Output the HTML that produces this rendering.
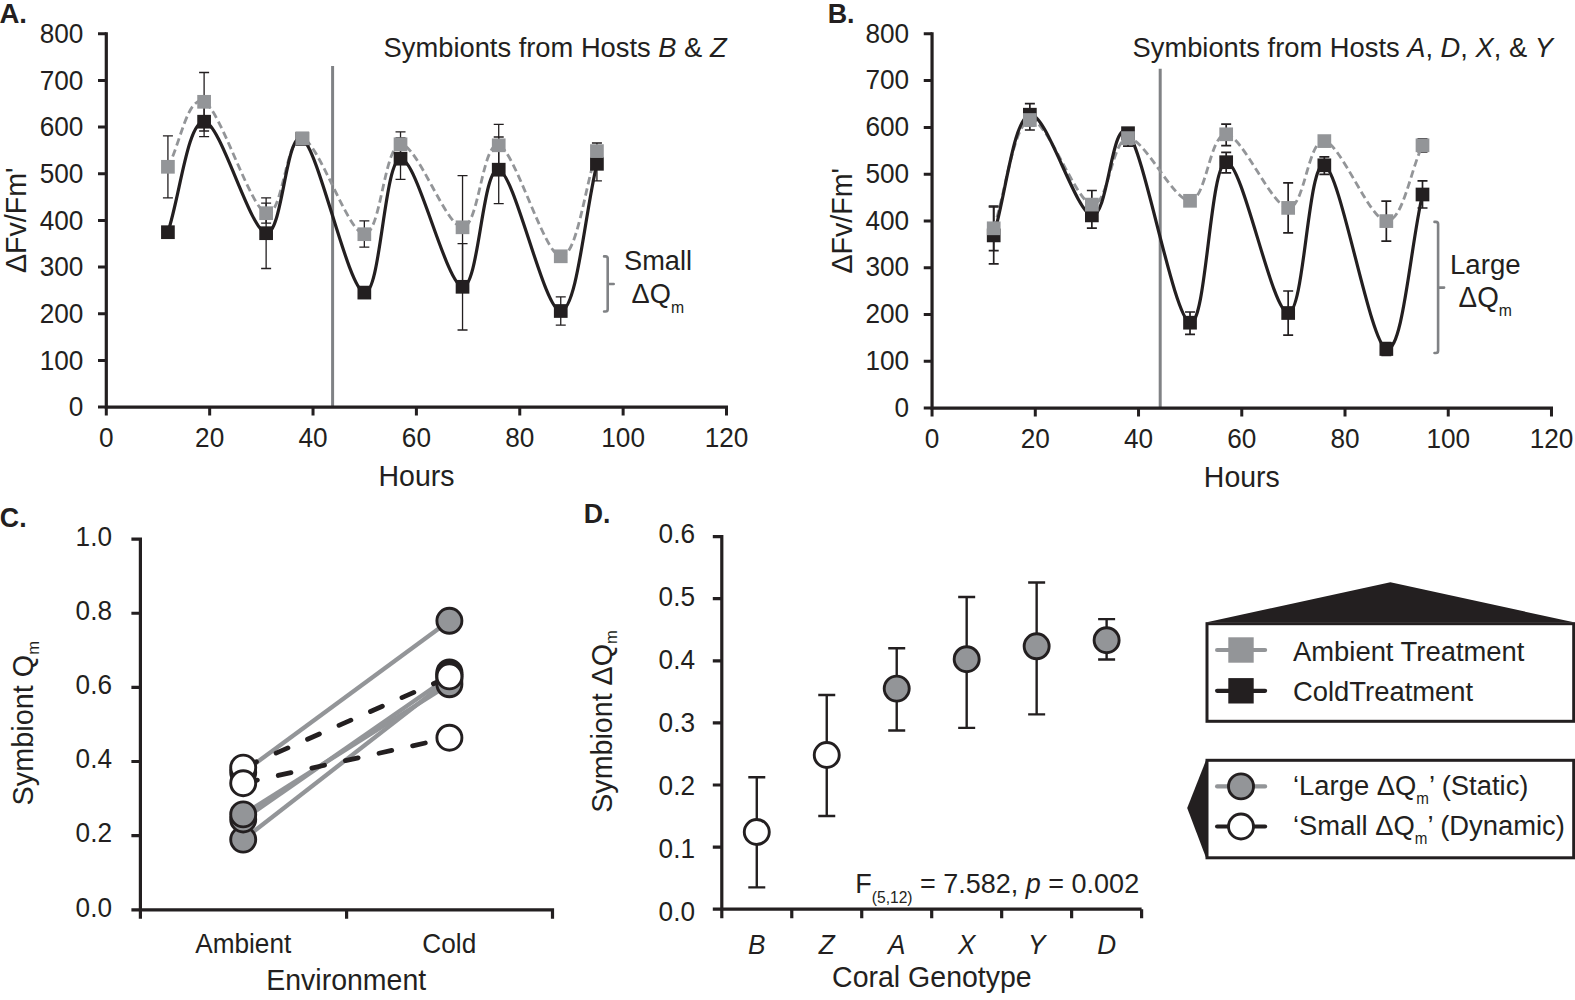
<!DOCTYPE html>
<html lang="en">
<head>
<meta charset="utf-8">
<title>Figure</title>
<style>
html,body{margin:0;padding:0;background:#fff;}
body{width:1575px;height:1000px;overflow:hidden;}
svg{display:block;}
svg text{font-family:"Liberation Sans", Arial, Helvetica, sans-serif;fill:#231f20;}
</style>
</head>
<body>
<svg width="1575" height="1000" viewBox="0 0 1575 1000">
<rect width="1575" height="1000" fill="#ffffff"/>
<g id="panelA">
<path d="M332.6,65.9 V407.1" stroke="#808285" stroke-width="3" fill="none"/>
<path d="M167.92,135.8 V197.8 M162.92,135.8 H172.92 M162.92,197.8 H172.92" fill="none" stroke="#231f20" stroke-width="1.3"/>
<path d="M204.11,72.5 V131 M199.11,72.5 H209.11 M199.11,131 H209.11" fill="none" stroke="#231f20" stroke-width="1.3"/>
<path d="M266.13,203.2 V223.2 M261.13,203.2 H271.13 M261.13,223.2 H271.13" fill="none" stroke="#231f20" stroke-width="1.3"/>
<path d="M364.34,220.9 V247.1 M359.34,220.9 H369.34 M359.34,247.1 H369.34" fill="none" stroke="#231f20" stroke-width="1.3"/>
<path d="M400.52,131.8 V156.8 M395.52,131.8 H405.52 M395.52,156.8 H405.52" fill="none" stroke="#231f20" stroke-width="1.3"/>
<path d="M462.54,175.7 V283 M457.54,175.7 H467.54 M457.54,283 H467.54" fill="none" stroke="#231f20" stroke-width="1.3"/>
<path d="M498.72,124.4 V166 M493.72,124.4 H503.72 M493.72,166 H503.72" fill="none" stroke="#231f20" stroke-width="1.3"/>
<path d="M596.93,143 V159 M591.93,143 H601.93 M591.93,159 H601.93" fill="none" stroke="#231f20" stroke-width="1.3"/>
<path d="M204.11,106.7 V136.7 M199.11,106.7 H209.11 M199.11,136.7 H209.11" fill="none" stroke="#231f20" stroke-width="1.3"/>
<path d="M266.13,197.9 V268.5 M261.13,197.9 H271.13 M261.13,268.5 H271.13" fill="none" stroke="#231f20" stroke-width="1.3"/>
<path d="M400.52,138 V179.3 M395.52,138 H405.52 M395.52,179.3 H405.52" fill="none" stroke="#231f20" stroke-width="1.3"/>
<path d="M462.54,243.6 V330 M457.54,243.6 H467.54 M457.54,330 H467.54" fill="none" stroke="#231f20" stroke-width="1.3"/>
<path d="M498.72,137 V203.7 M493.72,137 H503.72 M493.72,203.7 H503.72" fill="none" stroke="#231f20" stroke-width="1.3"/>
<path d="M560.75,296.8 V325.2 M555.75,296.8 H565.75 M555.75,325.2 H565.75" fill="none" stroke="#231f20" stroke-width="1.3"/>
<path d="M596.93,146.8 V180.8 M591.93,146.8 H601.93 M591.93,180.8 H601.93" fill="none" stroke="#231f20" stroke-width="1.3"/>
<path d="M167.92,166.8 C179.98,145.13 187.74,94.07 204.11,101.8 C220.47,109.53 249.76,207.12 266.13,213.2 C282.5,219.28 285.94,134.8 302.31,138.3 C318.68,141.8 347.97,233.2 364.34,234.2 C380.7,235.2 384.15,145.45 400.52,144.3 C416.88,143.15 446.17,227.13 462.54,227.3 C478.91,227.47 482.35,140.47 498.72,145.3 C515.09,150.13 544.38,255.33 560.75,256.3 C577.11,257.27 584.87,186.17 596.93,151.1" fill="none" stroke="#939598" stroke-width="2.8" stroke-dasharray="7.5 4"/>
<path d="M167.92,232.2 C179.98,195.37 187.74,121.53 204.11,121.7 C220.47,121.87 249.76,230.33 266.13,233.2 C282.5,236.07 285.94,129 302.31,138.9 C318.68,148.8 347.97,289.3 364.34,292.6 C380.7,295.9 384.15,159.67 400.52,158.7 C416.88,157.73 446.17,284.97 462.54,286.8 C478.91,288.63 482.35,165.67 498.72,169.7 C515.09,173.73 544.38,311.98 560.75,311 C577.11,310.02 584.87,212.87 596.93,163.8" fill="none" stroke="#231f20" stroke-width="3.2"/>
<rect x="161.07" y="225.35" width="13.7" height="13.7" fill="#231f20"/>
<rect x="197.26" y="114.85" width="13.7" height="13.7" fill="#231f20"/>
<rect x="259.28" y="226.35" width="13.7" height="13.7" fill="#231f20"/>
<rect x="295.46" y="132.05" width="13.7" height="13.7" fill="#231f20"/>
<rect x="357.49" y="285.75" width="13.7" height="13.7" fill="#231f20"/>
<rect x="393.67" y="151.85" width="13.7" height="13.7" fill="#231f20"/>
<rect x="455.69" y="279.95" width="13.7" height="13.7" fill="#231f20"/>
<rect x="491.87" y="162.85" width="13.7" height="13.7" fill="#231f20"/>
<rect x="553.9" y="304.15" width="13.7" height="13.7" fill="#231f20"/>
<rect x="590.08" y="156.95" width="13.7" height="13.7" fill="#231f20"/>
<rect x="161.07" y="159.95" width="13.7" height="13.7" fill="#939598"/>
<rect x="197.26" y="94.95" width="13.7" height="13.7" fill="#939598"/>
<rect x="259.28" y="206.35" width="13.7" height="13.7" fill="#939598"/>
<rect x="295.46" y="131.45" width="13.7" height="13.7" fill="#939598"/>
<rect x="357.49" y="227.35" width="13.7" height="13.7" fill="#939598"/>
<rect x="393.67" y="137.45" width="13.7" height="13.7" fill="#939598"/>
<rect x="455.69" y="220.45" width="13.7" height="13.7" fill="#939598"/>
<rect x="491.87" y="138.45" width="13.7" height="13.7" fill="#939598"/>
<rect x="553.9" y="249.45" width="13.7" height="13.7" fill="#939598"/>
<rect x="590.08" y="144.25" width="13.7" height="13.7" fill="#939598"/>
<path d="M106.3,32.2 V407.1 H728" fill="none" stroke="#231f20" stroke-width="3.2"/>
<path d="M98,407.1 H106.3 M98,360.43 H106.3 M98,313.75 H106.3 M98,267.08 H106.3 M98,220.4 H106.3 M98,173.72 H106.3 M98,127.05 H106.3 M98,80.38 H106.3 M98,33.7 H106.3 M106.3,407.1 V415.5 M209.67,407.1 V415.5 M313.03,407.1 V415.5 M416.4,407.1 V415.5 M519.76,407.1 V415.5 M623.13,407.1 V415.5 M726.5,407.1 V415.5" fill="none" stroke="#231f20" stroke-width="3.0"/>
<text transform="translate(83.4,416.25) scale(1,1.035)" font-size="26.2" text-anchor="end">0</text>
<text transform="translate(83.4,369.57) scale(1,1.035)" font-size="26.2" text-anchor="end">100</text>
<text transform="translate(83.4,322.9) scale(1,1.035)" font-size="26.2" text-anchor="end">200</text>
<text transform="translate(83.4,276.23) scale(1,1.035)" font-size="26.2" text-anchor="end">300</text>
<text transform="translate(83.4,229.55) scale(1,1.035)" font-size="26.2" text-anchor="end">400</text>
<text transform="translate(83.4,182.88) scale(1,1.035)" font-size="26.2" text-anchor="end">500</text>
<text transform="translate(83.4,136.2) scale(1,1.035)" font-size="26.2" text-anchor="end">600</text>
<text transform="translate(83.4,89.53) scale(1,1.035)" font-size="26.2" text-anchor="end">700</text>
<text transform="translate(83.4,42.85) scale(1,1.035)" font-size="26.2" text-anchor="end">800</text>
<text transform="translate(106.3,446.8) scale(1,1.035)" font-size="26.2" text-anchor="middle">0</text>
<text transform="translate(209.67,446.8) scale(1,1.035)" font-size="26.2" text-anchor="middle">20</text>
<text transform="translate(313.03,446.8) scale(1,1.035)" font-size="26.2" text-anchor="middle">40</text>
<text transform="translate(416.4,446.8) scale(1,1.035)" font-size="26.2" text-anchor="middle">60</text>
<text transform="translate(519.76,446.8) scale(1,1.035)" font-size="26.2" text-anchor="middle">80</text>
<text transform="translate(623.13,446.8) scale(1,1.035)" font-size="26.2" text-anchor="middle">100</text>
<text transform="translate(726.5,446.8) scale(1,1.035)" font-size="26.2" text-anchor="middle">120</text>
<text x="-0.6" y="22.9" font-size="27.6" font-weight="bold" class="nv">A.</text>
<text transform="translate(383.6,57.1) scale(1,1.035)" font-size="26.6" textLength="343" lengthAdjust="spacingAndGlyphs">Symbionts from Hosts <tspan font-style="italic">B</tspan> &amp; <tspan font-style="italic">Z</tspan></text>
<text transform="translate(416.5,486.4) scale(1,1.035)" font-size="28.5" text-anchor="middle">Hours</text>
<text transform="translate(26.2,220.3) rotate(-90)" font-size="29.4" text-anchor="middle" textLength="105.3" lengthAdjust="spacingAndGlyphs">ΔFv/Fm'</text>
<path d="M604.1,256.4 H605.5 Q607.7,256.4 607.7,258.6 V309.3 Q607.7,311.5 605.5,311.5 H604.1 M607.7,284 H613.7" fill="none" stroke="#808285" stroke-width="2.6" stroke-linecap="round" stroke-linejoin="round"/>
<text transform="translate(624,270.3) scale(1,1.035)" font-size="27.2">Small</text>
<text transform="translate(631.6,303.2) scale(1,1.035)" font-size="27.2">ΔQ<tspan font-size="15.8" dy="9">m</tspan></text>
</g>
<g id="panelB">
<path d="M1160.2,68.8 V408.1" stroke="#808285" stroke-width="3" fill="none"/>
<path d="M1128.02,130.1 V146.1 M1123.02,130.1 H1133.02 M1123.02,146.1 H1133.02" fill="none" stroke="#231f20" stroke-width="1.7"/>
<path d="M993.7,206 V250.6 M988.7,206 H998.7 M988.7,250.6 H998.7" fill="none" stroke="#231f20" stroke-width="1.7"/>
<path d="M1029.86,110 V130 M1024.86,110 H1034.86 M1024.86,130 H1034.86" fill="none" stroke="#231f20" stroke-width="1.7"/>
<path d="M1091.86,190.5 V218.7 M1086.86,190.5 H1096.86 M1086.86,218.7 H1096.86" fill="none" stroke="#231f20" stroke-width="1.7"/>
<path d="M1226.18,124.2 V145.7 M1221.18,124.2 H1231.18 M1221.18,145.7 H1231.18" fill="none" stroke="#231f20" stroke-width="1.7"/>
<path d="M1288.17,182.9 V232.8 M1283.17,182.9 H1293.17 M1283.17,232.8 H1293.17" fill="none" stroke="#231f20" stroke-width="1.7"/>
<path d="M1386.33,201.1 V241.1 M1381.33,201.1 H1391.33 M1381.33,241.1 H1391.33" fill="none" stroke="#231f20" stroke-width="1.7"/>
<path d="M1422.5,138.8 V151.8 M1417.5,138.8 H1427.5 M1417.5,151.8 H1427.5" fill="none" stroke="#231f20" stroke-width="1.7"/>
<path d="M993.7,207 V263.8 M988.7,207 H998.7 M988.7,263.8 H998.7" fill="none" stroke="#231f20" stroke-width="1.7"/>
<path d="M1029.86,103.7 V125.7 M1024.86,103.7 H1034.86 M1024.86,125.7 H1034.86" fill="none" stroke="#231f20" stroke-width="1.7"/>
<path d="M1091.86,202.6 V228.2 M1086.86,202.6 H1096.86 M1086.86,228.2 H1096.86" fill="none" stroke="#231f20" stroke-width="1.7"/>
<path d="M1190.02,312 V334.3 M1185.02,312 H1195.02 M1185.02,334.3 H1195.02" fill="none" stroke="#231f20" stroke-width="1.7"/>
<path d="M1226.18,152.4 V172.8 M1221.18,152.4 H1231.18 M1221.18,172.8 H1231.18" fill="none" stroke="#231f20" stroke-width="1.7"/>
<path d="M1288.17,291 V335.2 M1283.17,291 H1293.17 M1283.17,335.2 H1293.17" fill="none" stroke="#231f20" stroke-width="1.7"/>
<path d="M1324.34,156.8 V174.3 M1319.34,156.8 H1329.34 M1319.34,174.3 H1329.34" fill="none" stroke="#231f20" stroke-width="1.7"/>
<path d="M1386.33,342.5 V355.5 M1381.33,342.5 H1391.33 M1381.33,355.5 H1391.33" fill="none" stroke="#231f20" stroke-width="1.7"/>
<path d="M1422.5,180.8 V208 M1417.5,180.8 H1427.5 M1417.5,208 H1427.5" fill="none" stroke="#231f20" stroke-width="1.7"/>
<path d="M993.7,228.3 C1005.75,192.2 1013.5,123.95 1029.86,120 C1046.22,116.05 1075.5,201.58 1091.86,204.6 C1108.22,207.62 1111.66,138.73 1128.02,138.1 C1144.38,137.47 1173.66,201.43 1190.02,200.8 C1206.37,200.17 1209.82,133.12 1226.18,134.3 C1242.54,135.48 1271.81,206.77 1288.17,207.9 C1304.53,209.03 1307.98,138.9 1324.34,141.1 C1340.7,143.3 1369.97,220.4 1386.33,221.1 C1402.69,221.8 1410.44,170.57 1422.5,145.3" fill="none" stroke="#939598" stroke-width="2.8" stroke-dasharray="7.5 4"/>
<path d="M993.7,235.4 C1005.75,195.17 1013.5,118.03 1029.86,114.7 C1046.22,111.37 1075.5,212.32 1091.86,215.4 C1108.22,218.48 1111.66,115.32 1128.02,133.2 C1144.38,151.08 1173.66,317.87 1190.02,322.7 C1206.37,327.53 1209.82,163.82 1226.18,162.2 C1242.54,160.58 1271.81,312.48 1288.17,313 C1304.53,313.52 1307.98,159.3 1324.34,165.3 C1340.7,171.3 1369.97,344.13 1386.33,349 C1402.69,353.87 1410.44,246 1422.5,194.5" fill="none" stroke="#231f20" stroke-width="3.2"/>
<rect x="986.85" y="228.55" width="13.7" height="13.7" fill="#231f20"/>
<rect x="1023.01" y="107.85" width="13.7" height="13.7" fill="#231f20"/>
<rect x="1085.01" y="208.55" width="13.7" height="13.7" fill="#231f20"/>
<rect x="1121.17" y="126.35" width="13.7" height="13.7" fill="#231f20"/>
<rect x="1183.17" y="315.85" width="13.7" height="13.7" fill="#231f20"/>
<rect x="1219.33" y="155.35" width="13.7" height="13.7" fill="#231f20"/>
<rect x="1281.32" y="306.15" width="13.7" height="13.7" fill="#231f20"/>
<rect x="1317.49" y="158.45" width="13.7" height="13.7" fill="#231f20"/>
<rect x="1379.48" y="342.15" width="13.7" height="13.7" fill="#231f20"/>
<rect x="1415.65" y="187.65" width="13.7" height="13.7" fill="#231f20"/>
<rect x="986.85" y="221.45" width="13.7" height="13.7" fill="#939598"/>
<rect x="1023.01" y="113.15" width="13.7" height="13.7" fill="#939598"/>
<rect x="1085.01" y="197.75" width="13.7" height="13.7" fill="#939598"/>
<rect x="1121.17" y="131.25" width="13.7" height="13.7" fill="#939598"/>
<rect x="1183.17" y="193.95" width="13.7" height="13.7" fill="#939598"/>
<rect x="1219.33" y="127.45" width="13.7" height="13.7" fill="#939598"/>
<rect x="1281.32" y="201.05" width="13.7" height="13.7" fill="#939598"/>
<rect x="1317.49" y="134.25" width="13.7" height="13.7" fill="#939598"/>
<rect x="1379.48" y="214.25" width="13.7" height="13.7" fill="#939598"/>
<rect x="1415.65" y="138.45" width="13.7" height="13.7" fill="#939598"/>
<path d="M932.05,32.3 V408.1 H1553" fill="none" stroke="#231f20" stroke-width="3.2"/>
<path d="M923.75,408.1 H932.05 M923.75,361.31 H932.05 M923.75,314.53 H932.05 M923.75,267.74 H932.05 M923.75,220.95 H932.05 M923.75,174.16 H932.05 M923.75,127.38 H932.05 M923.75,80.59 H932.05 M923.75,33.8 H932.05 M932.05,408.1 V416.5 M1035.29,408.1 V416.5 M1138.53,408.1 V416.5 M1241.77,408.1 V416.5 M1345.01,408.1 V416.5 M1448.25,408.1 V416.5 M1551.49,408.1 V416.5" fill="none" stroke="#231f20" stroke-width="3.0"/>
<text transform="translate(909.15,416.8) scale(1,1.035)" font-size="26.2" text-anchor="end">0</text>
<text transform="translate(909.15,370.01) scale(1,1.035)" font-size="26.2" text-anchor="end">100</text>
<text transform="translate(909.15,323.23) scale(1,1.035)" font-size="26.2" text-anchor="end">200</text>
<text transform="translate(909.15,276.44) scale(1,1.035)" font-size="26.2" text-anchor="end">300</text>
<text transform="translate(909.15,229.65) scale(1,1.035)" font-size="26.2" text-anchor="end">400</text>
<text transform="translate(909.15,182.86) scale(1,1.035)" font-size="26.2" text-anchor="end">500</text>
<text transform="translate(909.15,136.07) scale(1,1.035)" font-size="26.2" text-anchor="end">600</text>
<text transform="translate(909.15,89.29) scale(1,1.035)" font-size="26.2" text-anchor="end">700</text>
<text transform="translate(909.15,42.5) scale(1,1.035)" font-size="26.2" text-anchor="end">800</text>
<text transform="translate(932.05,447.8) scale(1,1.035)" font-size="26.2" text-anchor="middle">0</text>
<text transform="translate(1035.29,447.8) scale(1,1.035)" font-size="26.2" text-anchor="middle">20</text>
<text transform="translate(1138.53,447.8) scale(1,1.035)" font-size="26.2" text-anchor="middle">40</text>
<text transform="translate(1241.77,447.8) scale(1,1.035)" font-size="26.2" text-anchor="middle">60</text>
<text transform="translate(1345.01,447.8) scale(1,1.035)" font-size="26.2" text-anchor="middle">80</text>
<text transform="translate(1448.25,447.8) scale(1,1.035)" font-size="26.2" text-anchor="middle">100</text>
<text transform="translate(1551.49,447.8) scale(1,1.035)" font-size="26.2" text-anchor="middle">120</text>
<text x="827.7" y="22.8" font-size="26.9" font-weight="bold" class="nv">B.</text>
<text transform="translate(1132.5,57.1) scale(1,1.035)" font-size="26.6" textLength="420.5" lengthAdjust="spacingAndGlyphs">Symbionts from Hosts <tspan font-style="italic">A</tspan>, <tspan font-style="italic">D</tspan>, <tspan font-style="italic">X</tspan>, &amp; <tspan font-style="italic">Y</tspan></text>
<text transform="translate(1241.8,486.8) scale(1,1.035)" font-size="28.5" text-anchor="middle">Hours</text>
<text transform="translate(852,220.8) rotate(-90)" font-size="29.4" text-anchor="middle" textLength="105.3" lengthAdjust="spacingAndGlyphs">ΔFv/Fm'</text>
<path d="M1434.5,221.9 H1435.9 Q1438.1,221.9 1438.1,224.1 V350.8 Q1438.1,353 1435.9,353 H1434.5 M1438.1,287.6 H1444.1" fill="none" stroke="#808285" stroke-width="2.6" stroke-linecap="round" stroke-linejoin="round"/>
<text transform="translate(1450,274.2) scale(1,1.035)" font-size="27.6">Large</text>
<text transform="translate(1458.6,306.5) scale(1,1.035)" font-size="27.8">ΔQ<tspan font-size="15.8" dy="9">m</tspan></text>
</g>
<g id="panelC">
<path d="M243.2,772.4 L449.4,620.8" fill="none" stroke="#939598" stroke-width="4.3"/>
<path d="M243.2,814.4 L449.4,684.3" fill="none" stroke="#939598" stroke-width="4.3"/>
<path d="M243.2,819.5 L449.4,676.5" fill="none" stroke="#939598" stroke-width="4.3"/>
<path d="M243.2,839.6 L449.4,679.5" fill="none" stroke="#939598" stroke-width="4.3"/>
<path d="M243.2,767.6 L449.4,676.7" fill="none" stroke="#231f20" stroke-width="4.8" stroke-dasharray="13 21.4" stroke-dashoffset="-1.5" stroke-linecap="round"/>
<path d="M243.2,783.2 L449.4,737.7" fill="none" stroke="#231f20" stroke-width="4.8" stroke-dasharray="13 21.4" stroke-dashoffset="-1.5" stroke-linecap="round"/>
<circle cx="243.2" cy="839.6" r="12.5" fill="#939598" stroke="#231f20" stroke-width="2.9"/>
<circle cx="449.4" cy="679.5" r="12.5" fill="#939598" stroke="#231f20" stroke-width="2.9"/>
<circle cx="243.2" cy="819.5" r="12.5" fill="#939598" stroke="#231f20" stroke-width="2.9"/>
<circle cx="449.4" cy="676.5" r="12.5" fill="#939598" stroke="#231f20" stroke-width="2.9"/>
<circle cx="243.2" cy="814.4" r="12.5" fill="#939598" stroke="#231f20" stroke-width="2.9"/>
<circle cx="449.4" cy="684.3" r="12.5" fill="#939598" stroke="#231f20" stroke-width="2.9"/>
<circle cx="243.2" cy="772.4" r="12.5" fill="#939598" stroke="#231f20" stroke-width="2.9"/>
<circle cx="449.4" cy="620.8" r="12.5" fill="#939598" stroke="#231f20" stroke-width="2.9"/>
<circle cx="243.2" cy="767.6" r="12.5" fill="#fff" stroke="#231f20" stroke-width="2.9"/>
<circle cx="243.2" cy="783.2" r="12.5" fill="#fff" stroke="#231f20" stroke-width="2.9"/>
<circle cx="449.4" cy="672.4" r="12.5" fill="#fff" stroke="#231f20" stroke-width="2.9"/>
<circle cx="449.4" cy="674.4" r="12.5" fill="#fff" stroke="#231f20" stroke-width="2.9"/>
<circle cx="449.4" cy="676.4" r="12.5" fill="#fff" stroke="#231f20" stroke-width="2.9"/>
<circle cx="449.4" cy="737.7" r="12.5" fill="#fff" stroke="#231f20" stroke-width="2.9"/>
<path d="M140.4,537.5 V909.8 H552.5 V918.8 M131.4,909.8 H140.4 M131.4,835.66 H140.4 M131.4,761.52 H140.4 M131.4,687.38 H140.4 M131.4,613.24 H140.4 M131.4,539.1 H140.4 M140.4,909.8 V918.8 M346.6,909.8 V918.8" fill="none" stroke="#231f20" stroke-width="3.2"/>
<text transform="translate(112,916.5) scale(1,1.035)" font-size="26.2" text-anchor="end">0.0</text>
<text transform="translate(112,842.44) scale(1,1.035)" font-size="26.2" text-anchor="end">0.2</text>
<text transform="translate(112,768.38) scale(1,1.035)" font-size="26.2" text-anchor="end">0.4</text>
<text transform="translate(112,694.32) scale(1,1.035)" font-size="26.2" text-anchor="end">0.6</text>
<text transform="translate(112,620.26) scale(1,1.035)" font-size="26.2" text-anchor="end">0.8</text>
<text transform="translate(112,546.2) scale(1,1.035)" font-size="26.2" text-anchor="end">1.0</text>
<text transform="translate(-0.2,527.3) scale(1,1.035)" font-size="26.8" font-weight="bold">C.</text>
<text transform="translate(243.2,953.3) scale(1,1.035)" font-size="26.2" text-anchor="middle">Ambient</text>
<text transform="translate(449.3,953.3) scale(1,1.035)" font-size="26.2" text-anchor="middle">Cold</text>
<text transform="translate(346.2,990.1) scale(1,1.035)" font-size="28.5" text-anchor="middle">Environment</text>
<text transform="translate(33,723.2) rotate(-90)" font-size="29.4" text-anchor="middle" textLength="164.5" lengthAdjust="spacingAndGlyphs">Symbiont Q<tspan font-size="17" dy="5.5">m</tspan></text>
</g>
<g id="panelD">
<path d="M756.78,777.2 V887.4 M748.28,777.2 H765.28 M748.28,887.4 H765.28" fill="none" stroke="#231f20" stroke-width="2.4"/>
<circle cx="756.78" cy="832" r="12.5" fill="#fff" stroke="#231f20" stroke-width="2.9"/>
<text transform="translate(756.78,953.9) scale(1,1.035)" font-size="26.2" text-anchor="middle" font-style="italic">B</text>
<path d="M826.75,695 V816 M818.25,695 H835.25 M818.25,816 H835.25" fill="none" stroke="#231f20" stroke-width="2.4"/>
<circle cx="826.75" cy="755" r="12.5" fill="#fff" stroke="#231f20" stroke-width="2.9"/>
<text transform="translate(826.75,953.9) scale(1,1.035)" font-size="26.2" text-anchor="middle" font-style="italic">Z</text>
<path d="M896.72,648.2 V730.5 M888.22,648.2 H905.22 M888.22,730.5 H905.22" fill="none" stroke="#231f20" stroke-width="2.4"/>
<circle cx="896.72" cy="688.6" r="12.5" fill="#939598" stroke="#231f20" stroke-width="2.9"/>
<text transform="translate(896.72,953.9) scale(1,1.035)" font-size="26.2" text-anchor="middle" font-style="italic">A</text>
<path d="M966.68,597 V727.9 M958.18,597 H975.18 M958.18,727.9 H975.18" fill="none" stroke="#231f20" stroke-width="2.4"/>
<circle cx="966.68" cy="659.2" r="12.5" fill="#939598" stroke="#231f20" stroke-width="2.9"/>
<text transform="translate(966.68,953.9) scale(1,1.035)" font-size="26.2" text-anchor="middle" font-style="italic">X</text>
<path d="M1036.65,582.5 V714.4 M1028.15,582.5 H1045.15 M1028.15,714.4 H1045.15" fill="none" stroke="#231f20" stroke-width="2.4"/>
<circle cx="1036.65" cy="646.3" r="12.5" fill="#939598" stroke="#231f20" stroke-width="2.9"/>
<text transform="translate(1036.65,953.9) scale(1,1.035)" font-size="26.2" text-anchor="middle" font-style="italic">Y</text>
<path d="M1106.62,619.1 V659.5 M1098.12,619.1 H1115.12 M1098.12,659.5 H1115.12" fill="none" stroke="#231f20" stroke-width="2.4"/>
<circle cx="1106.62" cy="640.2" r="12.5" fill="#939598" stroke="#231f20" stroke-width="2.9"/>
<text transform="translate(1106.62,953.9) scale(1,1.035)" font-size="26.2" text-anchor="middle" font-style="italic">D</text>
<path d="M721.8,535 V909.2 H1141.6 M712.8,909.2 H721.8 M712.8,847.1 H721.8 M712.8,785 H721.8 M712.8,722.9 H721.8 M712.8,660.8 H721.8 M712.8,598.7 H721.8 M712.8,536.6 H721.8 M721.8,909.2 V918.2 M791.77,909.2 V918.2 M861.73,909.2 V918.2 M931.7,909.2 V918.2 M1001.67,909.2 V918.2 M1071.63,909.2 V918.2 M1141.6,909.2 V918.2" fill="none" stroke="#231f20" stroke-width="3.2"/>
<text transform="translate(695,920.7) scale(1,1.035)" font-size="26.2" text-anchor="end">0.0</text>
<text transform="translate(695,857.8) scale(1,1.035)" font-size="26.2" text-anchor="end">0.1</text>
<text transform="translate(695,794.9) scale(1,1.035)" font-size="26.2" text-anchor="end">0.2</text>
<text transform="translate(695,732) scale(1,1.035)" font-size="26.2" text-anchor="end">0.3</text>
<text transform="translate(695,669.1) scale(1,1.035)" font-size="26.2" text-anchor="end">0.4</text>
<text transform="translate(695,606.2) scale(1,1.035)" font-size="26.2" text-anchor="end">0.5</text>
<text transform="translate(695,543.3) scale(1,1.035)" font-size="26.2" text-anchor="end">0.6</text>
<text transform="translate(583.8,523.1) scale(1,1.035)" font-size="26.7" font-weight="bold">D.</text>
<text transform="translate(931.9,987.4) scale(1,1.035)" font-size="28.5" text-anchor="middle">Coral Genotype</text>
<text transform="translate(611.7,721.5) rotate(-90)" font-size="29.4" text-anchor="middle" textLength="182.5" lengthAdjust="spacingAndGlyphs">Symbiont ΔQ<tspan font-size="17" dy="5.5">m</tspan></text>
<text transform="translate(855.3,893.4) scale(1,1.035)" font-size="27">F<tspan font-size="15.6" dy="8.8">(5,12)</tspan><tspan dy="-8.8"> = 7.582, </tspan><tspan font-style="italic">p</tspan> = 0.002</text>
</g>
<g id="legend">
<path d="M1205.6,622.5 L1390.4,582.3 L1575,622.5 Z" fill="#231f20"/>
<rect x="1207" y="623.7" width="366.7" height="97.6" fill="#fff" stroke="#231f20" stroke-width="3"/>
<path d="M1217.1,650 H1265.1" stroke="#939598" stroke-width="4.2" stroke-linecap="round"/>
<rect x="1228.3" y="637.3" width="25.4" height="25.4" fill="#939598"/>
<path d="M1217.1,690.8 H1265.1" stroke="#231f20" stroke-width="4.2" stroke-linecap="round"/>
<rect x="1228.3" y="678.1" width="25.4" height="25.4" fill="#231f20"/>
<text transform="translate(1293,660.8) scale(1,1.035)" font-size="27.4">Ambient Treatment</text>
<text transform="translate(1293,701) scale(1,1.035)" font-size="27.4">ColdTreatment</text>
<path d="M1206.5,759 L1187.2,808 L1206.5,859 Z" fill="#231f20"/>
<rect x="1207" y="760.3" width="366.7" height="97.5" fill="#fff" stroke="#231f20" stroke-width="3"/>
<path d="M1217.1,786.4 H1265.1" stroke="#939598" stroke-width="4.2" stroke-linecap="round"/>
<circle cx="1241" cy="786.4" r="12.5" fill="#939598" stroke="#231f20" stroke-width="2.9"/>
<path d="M1217.1,826.5 H1265.1" stroke="#231f20" stroke-width="4.2" stroke-linecap="round"/>
<circle cx="1241" cy="826.5" r="12.5" fill="#fff" stroke="#231f20" stroke-width="2.9"/>
<text transform="translate(1293,794.5) scale(1,1.035)" font-size="27.4">‘Large ΔQ<tspan font-size="15.2" dy="9">m</tspan><tspan dy="-9">’ (Static)</tspan></text>
<text transform="translate(1293,834.6) scale(1,1.035)" font-size="27.4">‘Small ΔQ<tspan font-size="15.2" dy="9">m</tspan><tspan dy="-9">’ (Dynamic)</tspan></text>
</g>
</svg>
</body>
</html>
